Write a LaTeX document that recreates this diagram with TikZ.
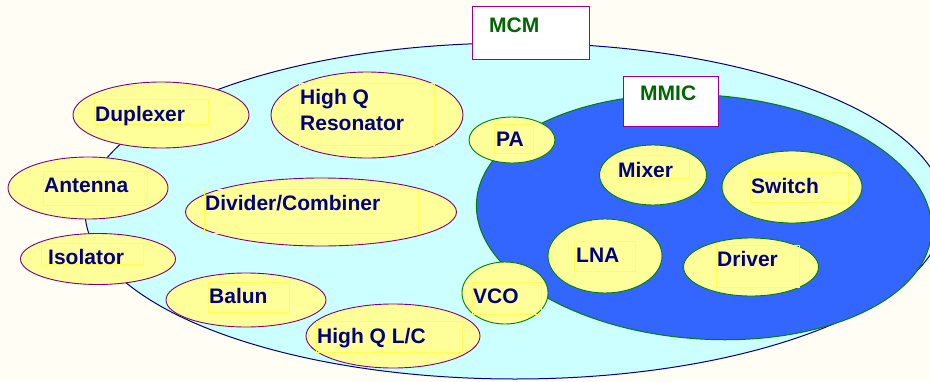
\documentclass[tikz,border=0pt]{standalone}
\usepackage{fontspec}
\setmainfont{Liberation Sans}
\usetikzlibrary{shapes.geometric}
\definecolor{bgcream}{HTML}{FFFDF4}
\definecolor{mcmfill}{HTML}{CCFFFF}
\definecolor{mcmline}{HTML}{000080}
\definecolor{mmicfill}{HTML}{3366FF}
\definecolor{mmicline}{HTML}{008000}
\definecolor{partfill}{HTML}{FFFF99}
\definecolor{purpleline}{HTML}{800080}
\definecolor{boxline}{HTML}{990099}
\definecolor{navytext}{HTML}{000080}
\definecolor{greentext}{HTML}{006600}
\definecolor{tbframe}{HTML}{FFFF55}
\tikzset{
  part/.style={ellipse, draw=purpleline, fill=partfill, line width=0.9pt, inner sep=0pt},
  chip/.style={ellipse, draw=mmicline, fill=partfill, line width=0.9pt, inner sep=0pt},
  lbl/.style={anchor=base west, inner sep=0pt, text=navytext, font=\fontsize{21}{26}\selectfont\bfseries},
  tag/.style={anchor=base west, inner sep=0pt, text=greentext, font=\fontsize{21}{26}\selectfont\bfseries},
  tbox/.style={draw=tbframe, line width=0.6pt},
  titlebox/.style={draw=boxline, fill=white, line width=1pt},
}
\begin{document}
\begin{tikzpicture}[x=1pt,y=-1pt]
\useasboundingbox (0,0) rectangle (930,381);
\fill[bgcream] (0,0) rectangle (930,381);
% MCM and MMIC regions
\node[ellipse, draw=mcmline, fill=mcmfill, line width=1pt, inner sep=0pt,
      minimum width=860pt, minimum height=336pt] (mcm) at (515,211) {};
\node[ellipse, draw=mmicline, fill=mmicfill, line width=1pt, inner sep=0pt,
      minimum width=456pt, minimum height=244pt, rotate=-4] (mmic) at (704,217) {};
% MCM parts
\node[part, minimum width=176pt, minimum height=66pt] (dup) at (161,115) {};
\node[part, minimum width=192pt, minimum height=86pt] (res) at (367,115) {};
\node[part, minimum width=160pt, minimum height=62pt] (ant) at (88,188) {};
\node[part, minimum width=155pt, minimum height=51pt] (iso) at (98,259) {};
\node[part, minimum width=271pt, minimum height=68pt] (div) at (321,212) {};
\node[part, minimum width=160pt, minimum height=54pt] (bal) at (246,300) {};
\node[part, minimum width=174pt, minimum height=64pt] (hlc) at (393,336) {};
% MMIC parts
\node[chip, minimum width=86pt, minimum height=46pt] (pa) at (512,140) {};
\node[chip, minimum width=86pt, minimum height=62pt] (vco) at (505,293) {};
\node[chip, minimum width=107pt, minimum height=60pt] (mix) at (653,175) {};
\node[chip, minimum width=140pt, minimum height=72pt] (swi) at (792,187) {};
\node[chip, minimum width=114pt, minimum height=74pt] (lna) at (605,256) {};
\node[chip, minimum width=135pt, minimum height=58pt] (drv) at (751,267) {};
% text frames
\draw[tbox] (94,99) rectangle (208,124);
\draw[tbox] (43,171) rectangle (147,205);
\draw[tbox] (41,243) rectangle (143,264);
\draw[tbox] (204,189) rectangle (418,233);
\draw[tbox] (299,83) rectangle (434,145);
\draw[tbox] (208,282) rectangle (289,312);
\draw[tbox] (316,321) rectangle (462,352);
\draw[tbox] (494,124) rectangle (533,153);
\draw[tbox] (472,282) rectangle (541,314);
\draw[tbox] (617,155) rectangle (689,178);
\draw[tbox] (750,172) rectangle (848,202);
\draw[tbox] (574,241) rectangle (635,271);
\draw[tbox] (716,245) rectangle (799,287);
% labels
\node[lbl] (tdup) at (95,121) {Duplexer};
\node[lbl] (tres1) at (300,104) {High Q};
\node[lbl] (tres2) at (300,130) {Resonator};
\node[lbl] (tant) at (44,192) {Antenna};
\node[lbl] (tiso) at (48,264) {Isolator};
\node[lbl] (tdiv) at (205,210) {Divider/Combiner};
\node[lbl] (tbal) at (209,303) {Balun};
\node[lbl] (thlc) at (317,343) {High Q L/C};
\node[lbl] (tpa) at (496,146) {PA};
\node[lbl] (tvco) at (473,303) {VCO};
\node[lbl] (tmix) at (618,177) {Mixer};
\node[lbl] (tswi) at (751,193) {Switch};
\node[lbl] (tlna) at (576,262) {LNA};
\node[lbl] (tdrv) at (717,266) {Driver};
% title boxes
\draw[titlebox] (472,6) rectangle (589,59);
\node[tag] (tmcm) at (489,32) {MCM};
\draw[titlebox] (623,76) rectangle (718,126);
\node[tag] (tmmic) at (640,100) {MMIC};
\end{tikzpicture}
\end{document}
